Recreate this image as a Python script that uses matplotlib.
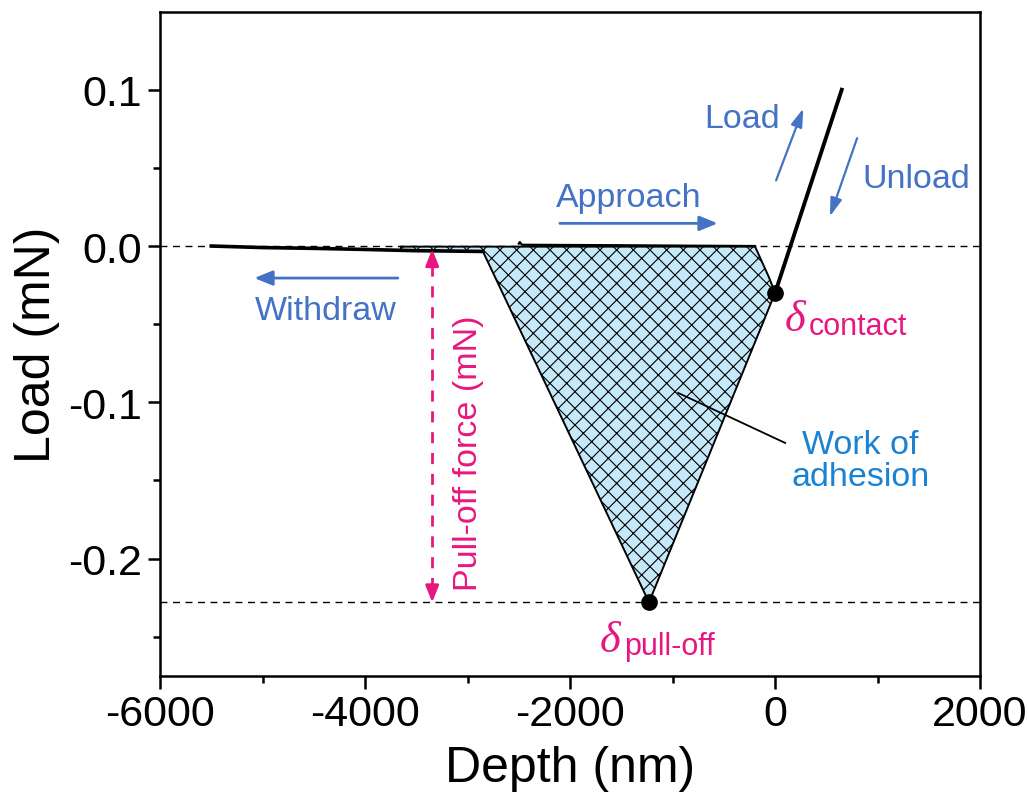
import numpy as np
import matplotlib.pyplot as plt

plt.rcParams['font.family'] = ['Liberation Sans', 'DejaVu Sans']
plt.rcParams['hatch.linewidth'] = 0.8

# force-displacement curve pieces (depth in nm, load in mN)
withdraw_x = [-5500, -5000, -4500, -4000, -3500, -3200, -2850]
withdraw_y = [0.0, -0.001, -0.0015, -0.0022, -0.003, -0.0032, -0.0035]
approach_x = [-2500, -2490, -2470, -1500, -800, -195]
approach_y = [0.0015, 0.0025, 0.0008, 0.0005, 0.0002, 0.0]
load_x = [0, 650]
load_y = [-0.030, 0.100]

# area enclosed by the unloading curve (work of adhesion)
area_x = [-3650, -195, -60, 0, -1230, -2850, -3300, -3650]
area_y = [-0.0004, -0.0004, -0.020, -0.030, -0.228, -0.0035, -0.0031, -0.0025]

contact = (0, -0.030)
pull_off = (-1230, -0.228)
pull_off_force = -0.228

blue = '#4472c4'
pink = '#e8177f'
cyan_blue = '#1a82d2'

fig = plt.figure(figsize=(10.29, 8.12), dpi=100)
ax = fig.add_axes([0.1555, 0.1665, 0.797, 0.818])

ax.axhline(0, color='black', lw=1.0, ls=(0, (5, 4)), zorder=1)
ax.axhline(pull_off_force, color='black', lw=1.0, ls=(0, (5, 4)), zorder=1)

ax.fill(area_x, area_y, facecolor='#c6e9f9', edgecolor='black', hatch='xx',
        lw=1.4, zorder=2)
ax.plot(withdraw_x, withdraw_y, color='black', lw=2.6, zorder=3)
ax.plot(approach_x, approach_y, color='black', lw=1.6, zorder=3)
ax.plot(load_x, load_y, color='black', lw=2.8, zorder=3)
ax.plot(*contact, 'o', color='black', ms=11, zorder=4)
ax.plot(*pull_off, 'o', color='black', ms=11, zorder=4)

# direction arrows
def arrow(x0, y0, x1, y1, color=blue, lw=2.0, hw=0.45, hl=1.1):
    ax.annotate('', xy=(x1, y1), xytext=(x0, y0),
                arrowprops=dict(arrowstyle='-|>,head_width=%g,head_length=%g' % (hw, hl),
                                color=color, lw=lw, shrinkA=0, shrinkB=0),
                zorder=5)

arrow(-3680, -0.0205, -5080, -0.0205)
ax.text(-4380, -0.041, 'Withdraw', color=blue, fontsize=24.5, ha='center', va='center')
arrow(-2100, 0.0145, -560, 0.0145)
ax.text(-1424, 0.031, 'Approach', color=blue, fontsize=24.5, ha='center', va='center')
arrow(10, 0.042, 275, 0.088, lw=1.6, hw=0.35, hl=1.1)
ax.text(-322, 0.0815, 'Load', color=blue, fontsize=24.5, ha='center', va='center')
arrow(800, 0.069, 535, 0.019, lw=1.6, hw=0.35, hl=1.1)
ax.text(1376, 0.0435, 'Unload', color=blue, fontsize=24.5, ha='center', va='center')

# pull-off force marker
px = -3345
ax.plot([px, px], [-0.012, pull_off_force + 0.01], color=pink, lw=2.0,
        ls=(0, (4, 3.5)), zorder=5)
arrow(px, -0.012, px, -0.002, color=pink, lw=2.0, hw=0.4, hl=1.0)
arrow(px, pull_off_force + 0.012, px, pull_off_force, color=pink, lw=2.0, hw=0.4, hl=1.0)
ax.text(-2995, -0.132, 'Pull-off force (mN)', color=pink, fontsize=24.5,
        rotation=90, ha='center', va='center')

# work of adhesion label
ax.plot([-946, 98], [-0.094, -0.126], color='black', lw=1.3, zorder=5)
ax.text(830, -0.137, 'Work of\nadhesion', color=cyan_blue, fontsize=24.5,
        ha='center', va='center', linespacing=1.05)

# delta labels
ax.text(95, -0.047, 'δ', family='Liberation Serif', style='italic', color=pink,
        fontsize=32, ha='left', va='center')
ax.text(330, -0.051, 'contact', color=pink, fontsize=22, ha='left', va='center')
ax.text(-1710, -0.252, 'δ', family='Liberation Serif', style='italic', color=pink,
        fontsize=32, ha='left', va='center')
ax.text(-1475, -0.256, 'pull-off', color=pink, fontsize=22, ha='left', va='center')

ax.set_xlim(-6000, 2000)
ax.set_ylim(-0.275, 0.15)
ax.set_xticks([-6000, -4000, -2000, 0, 2000])
ax.set_xticks([-5000, -3000, -1000, 1000], minor=True)
ax.set_yticks([-0.2, -0.1, 0.0, 0.1])
ax.set_yticks([-0.25, -0.15, -0.05, 0.05], minor=True)
ax.set_yticklabels(['-0.2', '-0.1', '0.0', '0.1'])
ax.set_xticklabels(['-6000', '-4000', '-2000', '0', '2000'])

for s in ax.spines.values():
    s.set_linewidth(1.8)
ax.tick_params(which='major', direction='out', length=9, width=1.8,
               labelsize=31, pad=4)
ax.tick_params(which='minor', direction='out', length=5, width=1.8)
ax.set_xlabel('Depth (nm)', fontsize=36, labelpad=8)
ax.set_ylabel('Load (mN)', fontsize=36, labelpad=6)

fig.savefig('out.png', dpi=100)
